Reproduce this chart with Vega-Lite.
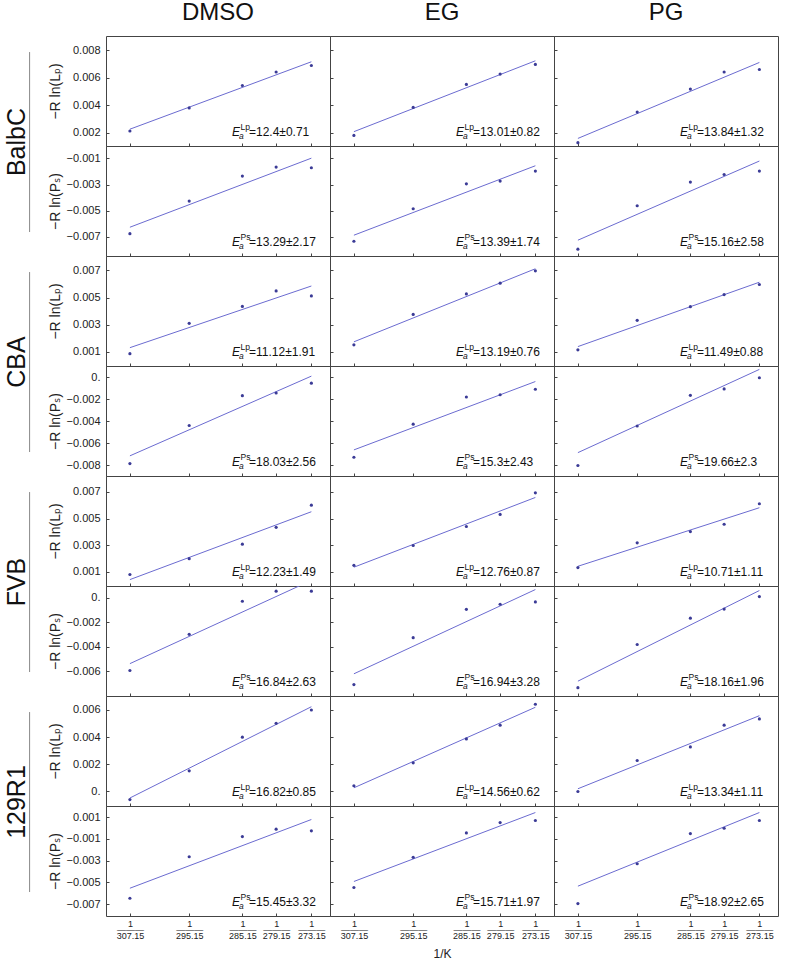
{
"$schema": "https://vega.github.io/schema/vega-lite/v6.json",
"padding": {"left": 5, "top": 0, "right": 5, "bottom": 5},
"background": "white",
"config": {
 "font": "Liberation Sans",
 "view": {"stroke": "#444", "strokeWidth": 1},
 "axis": {"grid": false, "domain": false, "tickColor": "#444", "labelColor": "#222", "titleColor": "#222", "labelFont": "Liberation Sans", "titleFont": "Liberation Sans, DejaVu Sans", "titleFontWeight": "normal"},
 "point": {"filled": true, "size": 10, "color": "#3b3b96", "opacity": 1},
 "line": {"color": "#6b6bd0", "strokeWidth": 1},
 "title": {"font": "Liberation Sans", "fontWeight": "normal", "color": "#111", "fontSize": 24, "frame": "group", "anchor": "middle", "baseline": "alphabetic", "offset": 11}
},
"datasets": {"d": [
{"s":"BalbC","p":"Lp","c":"DMSO","k":"o","x":0.0032557,"y":0.00213},{"s":"BalbC","p":"Lp","c":"DMSO","k":"o","x":0.0033881,"y":0.0038},{"s":"BalbC","p":"Lp","c":"DMSO","k":"o","x":0.0035069,"y":0.00543},{"s":"BalbC","p":"Lp","c":"DMSO","k":"o","x":0.0035823,"y":0.00641},{"s":"BalbC","p":"Lp","c":"DMSO","k":"o","x":0.003661,"y":0.00688},
{"s":"BalbC","p":"Lp","c":"DMSO","k":"f","x":0.0032557,"y":0.00226},{"s":"BalbC","p":"Lp","c":"DMSO","k":"f","x":0.003661,"y":0.00715},{"s":"BalbC","p":"Lp","c":"DMSO","k":"a","t":"=12.4±0.71"},
{"s":"BalbC","p":"Lp","c":"EG","k":"o","x":0.0032557,"y":0.00181},{"s":"BalbC","p":"Lp","c":"EG","k":"o","x":0.0033881,"y":0.00384},{"s":"BalbC","p":"Lp","c":"EG","k":"o","x":0.0035069,"y":0.00551},{"s":"BalbC","p":"Lp","c":"EG","k":"o","x":0.0035823,"y":0.00626},{"s":"BalbC","p":"Lp","c":"EG","k":"o","x":0.003661,"y":0.00696},
{"s":"BalbC","p":"Lp","c":"EG","k":"f","x":0.0032557,"y":0.00208},{"s":"BalbC","p":"Lp","c":"EG","k":"f","x":0.003661,"y":0.00722},{"s":"BalbC","p":"Lp","c":"EG","k":"a","t":"=13.01±0.82"},
{"s":"BalbC","p":"Lp","c":"PG","k":"o","x":0.0032557,"y":0.00128},{"s":"BalbC","p":"Lp","c":"PG","k":"o","x":0.0033881,"y":0.0035},{"s":"BalbC","p":"Lp","c":"PG","k":"o","x":0.0035069,"y":0.00517},{"s":"BalbC","p":"Lp","c":"PG","k":"o","x":0.0035823,"y":0.00641},{"s":"BalbC","p":"Lp","c":"PG","k":"o","x":0.003661,"y":0.00659},
{"s":"BalbC","p":"Lp","c":"PG","k":"f","x":0.0032557,"y":0.00159},{"s":"BalbC","p":"Lp","c":"PG","k":"f","x":0.003661,"y":0.0071},{"s":"BalbC","p":"Lp","c":"PG","k":"a","t":"=13.84±1.32"},
{"s":"BalbC","p":"Ps","c":"DMSO","k":"o","x":0.0032557,"y":-0.00675},{"s":"BalbC","p":"Ps","c":"DMSO","k":"o","x":0.0033881,"y":-0.00426},{"s":"BalbC","p":"Ps","c":"DMSO","k":"o","x":0.0035069,"y":-0.00235},{"s":"BalbC","p":"Ps","c":"DMSO","k":"o","x":0.0035823,"y":-0.00166},{"s":"BalbC","p":"Ps","c":"DMSO","k":"o","x":0.003661,"y":-0.00171},
{"s":"BalbC","p":"Ps","c":"DMSO","k":"f","x":0.0032557,"y":-0.00626},{"s":"BalbC","p":"Ps","c":"DMSO","k":"f","x":0.003661,"y":-0.00098},{"s":"BalbC","p":"Ps","c":"DMSO","k":"a","t":"=13.29±2.17"},
{"s":"BalbC","p":"Ps","c":"EG","k":"o","x":0.0032557,"y":-0.00733},{"s":"BalbC","p":"Ps","c":"EG","k":"o","x":0.0033881,"y":-0.00485},{"s":"BalbC","p":"Ps","c":"EG","k":"o","x":0.0035069,"y":-0.00294},{"s":"BalbC","p":"Ps","c":"EG","k":"o","x":0.0035823,"y":-0.00273},{"s":"BalbC","p":"Ps","c":"EG","k":"o","x":0.003661,"y":-0.00197},
{"s":"BalbC","p":"Ps","c":"EG","k":"f","x":0.0032557,"y":-0.00687},{"s":"BalbC","p":"Ps","c":"EG","k":"f","x":0.003661,"y":-0.00156},{"s":"BalbC","p":"Ps","c":"EG","k":"a","t":"=13.39±1.74"},
{"s":"BalbC","p":"Ps","c":"PG","k":"o","x":0.0032557,"y":-0.00794},{"s":"BalbC","p":"Ps","c":"PG","k":"o","x":0.0033881,"y":-0.00462},{"s":"BalbC","p":"Ps","c":"PG","k":"o","x":0.0035069,"y":-0.00281},{"s":"BalbC","p":"Ps","c":"PG","k":"o","x":0.0035823,"y":-0.00223},{"s":"BalbC","p":"Ps","c":"PG","k":"o","x":0.003661,"y":-0.00197},
{"s":"BalbC","p":"Ps","c":"PG","k":"f","x":0.0032557,"y":-0.00725},{"s":"BalbC","p":"Ps","c":"PG","k":"f","x":0.003661,"y":-0.0012},{"s":"BalbC","p":"Ps","c":"PG","k":"a","t":"=15.16±2.58"},
{"s":"CBA","p":"Lp","c":"DMSO","k":"o","x":0.0032557,"y":0.00087},{"s":"CBA","p":"Lp","c":"DMSO","k":"o","x":0.0033881,"y":0.0031},{"s":"CBA","p":"Lp","c":"DMSO","k":"o","x":0.0035069,"y":0.00435},{"s":"CBA","p":"Lp","c":"DMSO","k":"o","x":0.0035823,"y":0.00549},{"s":"CBA","p":"Lp","c":"DMSO","k":"o","x":0.003661,"y":0.00512},
{"s":"CBA","p":"Lp","c":"DMSO","k":"f","x":0.0032557,"y":0.00131},{"s":"CBA","p":"Lp","c":"DMSO","k":"f","x":0.003661,"y":0.00585},{"s":"CBA","p":"Lp","c":"DMSO","k":"a","t":"=11.12±1.91"},
{"s":"CBA","p":"Lp","c":"EG","k":"o","x":0.0032557,"y":0.00152},{"s":"CBA","p":"Lp","c":"EG","k":"o","x":0.0033881,"y":0.00376},{"s":"CBA","p":"Lp","c":"EG","k":"o","x":0.0035069,"y":0.00527},{"s":"CBA","p":"Lp","c":"EG","k":"o","x":0.0035823,"y":0.00606},{"s":"CBA","p":"Lp","c":"EG","k":"o","x":0.003661,"y":0.00697},
{"s":"CBA","p":"Lp","c":"EG","k":"f","x":0.0032557,"y":0.00174},{"s":"CBA","p":"Lp","c":"EG","k":"f","x":0.003661,"y":0.00712},{"s":"CBA","p":"Lp","c":"EG","k":"a","t":"=13.19±0.76"},
{"s":"CBA","p":"Lp","c":"PG","k":"o","x":0.0032557,"y":0.00115},{"s":"CBA","p":"Lp","c":"PG","k":"o","x":0.0033881,"y":0.00332},{"s":"CBA","p":"Lp","c":"PG","k":"o","x":0.0035069,"y":0.00433},{"s":"CBA","p":"Lp","c":"PG","k":"o","x":0.0035823,"y":0.00522},{"s":"CBA","p":"Lp","c":"PG","k":"o","x":0.003661,"y":0.00596},
{"s":"CBA","p":"Lp","c":"PG","k":"f","x":0.0032557,"y":0.00139},{"s":"CBA","p":"Lp","c":"PG","k":"f","x":0.003661,"y":0.00613},{"s":"CBA","p":"Lp","c":"PG","k":"a","t":"=11.49±0.88"},
{"s":"CBA","p":"Ps","c":"DMSO","k":"o","x":0.0032557,"y":-0.00784},{"s":"CBA","p":"Ps","c":"DMSO","k":"o","x":0.0033881,"y":-0.00439},{"s":"CBA","p":"Ps","c":"DMSO","k":"o","x":0.0035069,"y":-0.00168},{"s":"CBA","p":"Ps","c":"DMSO","k":"o","x":0.0035823,"y":-0.00144},{"s":"CBA","p":"Ps","c":"DMSO","k":"o","x":0.003661,"y":-0.00055},
{"s":"CBA","p":"Ps","c":"DMSO","k":"f","x":0.0032557,"y":-0.00714},{"s":"CBA","p":"Ps","c":"DMSO","k":"f","x":0.003661,"y":0.00009},{"s":"CBA","p":"Ps","c":"DMSO","k":"a","t":"=18.03±2.56"},
{"s":"CBA","p":"Ps","c":"EG","k":"o","x":0.0032557,"y":-0.00727},{"s":"CBA","p":"Ps","c":"EG","k":"o","x":0.0033881,"y":-0.00427},{"s":"CBA","p":"Ps","c":"EG","k":"o","x":0.0035069,"y":-0.0018},{"s":"CBA","p":"Ps","c":"EG","k":"o","x":0.0035823,"y":-0.0016},{"s":"CBA","p":"Ps","c":"EG","k":"o","x":0.003661,"y":-0.0011},
{"s":"CBA","p":"Ps","c":"EG","k":"f","x":0.0032557,"y":-0.0066},{"s":"CBA","p":"Ps","c":"EG","k":"f","x":0.003661,"y":-0.0004},{"s":"CBA","p":"Ps","c":"EG","k":"a","t":"=15.3±2.43"},
{"s":"CBA","p":"Ps","c":"PG","k":"o","x":0.0032557,"y":-0.00802},{"s":"CBA","p":"Ps","c":"PG","k":"o","x":0.0033881,"y":-0.00443},{"s":"CBA","p":"Ps","c":"PG","k":"o","x":0.0035069,"y":-0.00165},{"s":"CBA","p":"Ps","c":"PG","k":"o","x":0.0035823,"y":-0.00107},{"s":"CBA","p":"Ps","c":"PG","k":"o","x":0.003661,"y":-0.00006},
{"s":"CBA","p":"Ps","c":"PG","k":"f","x":0.0032557,"y":-0.00685},{"s":"CBA","p":"Ps","c":"PG","k":"f","x":0.003661,"y":0.0007},{"s":"CBA","p":"Ps","c":"PG","k":"a","t":"=19.66±2.3"},
{"s":"FVB","p":"Lp","c":"DMSO","k":"o","x":0.0032557,"y":0.0008},{"s":"FVB","p":"Lp","c":"DMSO","k":"o","x":0.0033881,"y":0.00199},{"s":"FVB","p":"Lp","c":"DMSO","k":"o","x":0.0035069,"y":0.00308},{"s":"FVB","p":"Lp","c":"DMSO","k":"o","x":0.0035823,"y":0.00434},{"s":"FVB","p":"Lp","c":"DMSO","k":"o","x":0.003661,"y":0.006},
{"s":"FVB","p":"Lp","c":"DMSO","k":"f","x":0.0032557,"y":0.00042},{"s":"FVB","p":"Lp","c":"DMSO","k":"f","x":0.003661,"y":0.00551},{"s":"FVB","p":"Lp","c":"DMSO","k":"a","t":"=12.23±1.49"},
{"s":"FVB","p":"Lp","c":"EG","k":"o","x":0.0032557,"y":0.00149},{"s":"FVB","p":"Lp","c":"EG","k":"o","x":0.0033881,"y":0.00298},{"s":"FVB","p":"Lp","c":"EG","k":"o","x":0.0035069,"y":0.0044},{"s":"FVB","p":"Lp","c":"EG","k":"o","x":0.0035823,"y":0.00531},{"s":"FVB","p":"Lp","c":"EG","k":"o","x":0.003661,"y":0.00693},
{"s":"FVB","p":"Lp","c":"EG","k":"f","x":0.0032557,"y":0.00135},{"s":"FVB","p":"Lp","c":"EG","k":"f","x":0.003661,"y":0.00658},{"s":"FVB","p":"Lp","c":"EG","k":"a","t":"=12.76±0.87"},
{"s":"FVB","p":"Lp","c":"PG","k":"o","x":0.0032557,"y":0.00132},{"s":"FVB","p":"Lp","c":"PG","k":"o","x":0.0033881,"y":0.00318},{"s":"FVB","p":"Lp","c":"PG","k":"o","x":0.0035069,"y":0.00402},{"s":"FVB","p":"Lp","c":"PG","k":"o","x":0.0035823,"y":0.00457},{"s":"FVB","p":"Lp","c":"PG","k":"o","x":0.003661,"y":0.00611},
{"s":"FVB","p":"Lp","c":"PG","k":"f","x":0.0032557,"y":0.00142},{"s":"FVB","p":"Lp","c":"PG","k":"f","x":0.003661,"y":0.00581},{"s":"FVB","p":"Lp","c":"PG","k":"a","t":"=10.71±1.11"},
{"s":"FVB","p":"Ps","c":"DMSO","k":"o","x":0.0032557,"y":-0.00592},{"s":"FVB","p":"Ps","c":"DMSO","k":"o","x":0.0033881,"y":-0.00297},{"s":"FVB","p":"Ps","c":"DMSO","k":"o","x":0.0035069,"y":-0.00027},{"s":"FVB","p":"Ps","c":"DMSO","k":"o","x":0.0035823,"y":0.00055},{"s":"FVB","p":"Ps","c":"DMSO","k":"o","x":0.003661,"y":0.00055},
{"s":"FVB","p":"Ps","c":"DMSO","k":"f","x":0.0032557,"y":-0.00536},{"s":"FVB","p":"Ps","c":"DMSO","k":"f","x":0.003661,"y":0.00143},{"s":"FVB","p":"Ps","c":"DMSO","k":"a","t":"=16.84±2.63"},
{"s":"FVB","p":"Ps","c":"EG","k":"o","x":0.0032557,"y":-0.00707},{"s":"FVB","p":"Ps","c":"EG","k":"o","x":0.0033881,"y":-0.00324},{"s":"FVB","p":"Ps","c":"EG","k":"o","x":0.0035069,"y":-0.00093},{"s":"FVB","p":"Ps","c":"EG","k":"o","x":0.0035823,"y":-0.00052},{"s":"FVB","p":"Ps","c":"EG","k":"o","x":0.003661,"y":-0.00033},
{"s":"FVB","p":"Ps","c":"EG","k":"f","x":0.0032557,"y":-0.00619},{"s":"FVB","p":"Ps","c":"EG","k":"f","x":0.003661,"y":0.00068},{"s":"FVB","p":"Ps","c":"EG","k":"a","t":"=16.94±3.28"},
{"s":"FVB","p":"Ps","c":"PG","k":"o","x":0.0032557,"y":-0.00732},{"s":"FVB","p":"Ps","c":"PG","k":"o","x":0.0033881,"y":-0.0038},{"s":"FVB","p":"Ps","c":"PG","k":"o","x":0.0035069,"y":-0.00165},{"s":"FVB","p":"Ps","c":"PG","k":"o","x":0.0035823,"y":-0.00091},{"s":"FVB","p":"Ps","c":"PG","k":"o","x":0.003661,"y":0.00011},
{"s":"FVB","p":"Ps","c":"PG","k":"f","x":0.0032557,"y":-0.00679},{"s":"FVB","p":"Ps","c":"PG","k":"f","x":0.003661,"y":0.0006},{"s":"FVB","p":"Ps","c":"PG","k":"a","t":"=18.16±1.96"},
{"s":"129R1","p":"Lp","c":"DMSO","k":"o","x":0.0032557,"y":-0.0006},{"s":"129R1","p":"Lp","c":"DMSO","k":"o","x":0.0033881,"y":0.00152},{"s":"129R1","p":"Lp","c":"DMSO","k":"o","x":0.0035069,"y":0.004},{"s":"129R1","p":"Lp","c":"DMSO","k":"o","x":0.0035823,"y":0.00502},{"s":"129R1","p":"Lp","c":"DMSO","k":"o","x":0.003661,"y":0.006},
{"s":"129R1","p":"Lp","c":"DMSO","k":"f","x":0.0032557,"y":-0.00048},{"s":"129R1","p":"Lp","c":"DMSO","k":"f","x":0.003661,"y":0.00624},{"s":"129R1","p":"Lp","c":"DMSO","k":"a","t":"=16.82±0.85"},
{"s":"129R1","p":"Lp","c":"EG","k":"o","x":0.0032557,"y":0.00042},{"s":"129R1","p":"Lp","c":"EG","k":"o","x":0.0033881,"y":0.00211},{"s":"129R1","p":"Lp","c":"EG","k":"o","x":0.0035069,"y":0.00387},{"s":"129R1","p":"Lp","c":"EG","k":"o","x":0.0035823,"y":0.00488},{"s":"129R1","p":"Lp","c":"EG","k":"o","x":0.003661,"y":0.00642},
{"s":"129R1","p":"Lp","c":"EG","k":"f","x":0.0032557,"y":0.00027},{"s":"129R1","p":"Lp","c":"EG","k":"f","x":0.003661,"y":0.0062},{"s":"129R1","p":"Lp","c":"EG","k":"a","t":"=14.56±0.62"},
{"s":"129R1","p":"Lp","c":"PG","k":"o","x":0.0032557,"y":0.0},{"s":"129R1","p":"Lp","c":"PG","k":"o","x":0.0033881,"y":0.00228},{"s":"129R1","p":"Lp","c":"PG","k":"o","x":0.0035069,"y":0.00328},{"s":"129R1","p":"Lp","c":"PG","k":"o","x":0.0035823,"y":0.00488},{"s":"129R1","p":"Lp","c":"PG","k":"o","x":0.003661,"y":0.00534},
{"s":"129R1","p":"Lp","c":"PG","k":"f","x":0.0032557,"y":0.0002},{"s":"129R1","p":"Lp","c":"PG","k":"f","x":0.003661,"y":0.00558},{"s":"129R1","p":"Lp","c":"PG","k":"a","t":"=13.34±1.11"},
{"s":"129R1","p":"Ps","c":"DMSO","k":"o","x":0.0032557,"y":-0.00645},{"s":"129R1","p":"Ps","c":"DMSO","k":"o","x":0.0033881,"y":-0.00264},{"s":"129R1","p":"Ps","c":"DMSO","k":"o","x":0.0035069,"y":-0.00079},{"s":"129R1","p":"Ps","c":"DMSO","k":"o","x":0.0035823,"y":-0.00011},{"s":"129R1","p":"Ps","c":"DMSO","k":"o","x":0.003661,"y":-0.00026},
{"s":"129R1","p":"Ps","c":"DMSO","k":"f","x":0.0032557,"y":-0.00553},{"s":"129R1","p":"Ps","c":"DMSO","k":"f","x":0.003661,"y":0.00078},{"s":"129R1","p":"Ps","c":"DMSO","k":"a","t":"=15.45±3.32"},
{"s":"129R1","p":"Ps","c":"EG","k":"o","x":0.0032557,"y":-0.00546},{"s":"129R1","p":"Ps","c":"EG","k":"o","x":0.0033881,"y":-0.00269},{"s":"129R1","p":"Ps","c":"EG","k":"o","x":0.0035069,"y":-0.00045},{"s":"129R1","p":"Ps","c":"EG","k":"o","x":0.0035823,"y":0.0005},{"s":"129R1","p":"Ps","c":"EG","k":"o","x":0.003661,"y":0.00069},
{"s":"129R1","p":"Ps","c":"EG","k":"f","x":0.0032557,"y":-0.00491},{"s":"129R1","p":"Ps","c":"EG","k":"f","x":0.003661,"y":0.00142},{"s":"129R1","p":"Ps","c":"EG","k":"a","t":"=15.71±1.97"},
{"s":"129R1","p":"Ps","c":"PG","k":"o","x":0.0032557,"y":-0.00694},{"s":"129R1","p":"Ps","c":"PG","k":"o","x":0.0033881,"y":-0.00328},{"s":"129R1","p":"Ps","c":"PG","k":"o","x":0.0035069,"y":-0.00051},{"s":"129R1","p":"Ps","c":"PG","k":"o","x":0.0035823,"y":-0.00002},{"s":"129R1","p":"Ps","c":"PG","k":"o","x":0.003661,"y":0.00069},
{"s":"129R1","p":"Ps","c":"PG","k":"f","x":0.0032557,"y":-0.00534},{"s":"129R1","p":"Ps","c":"PG","k":"f","x":0.003661,"y":0.00142},{"s":"129R1","p":"Ps","c":"PG","k":"a","t":"=18.92±2.65"}
]},
"spacing": 0,
"hconcat": [
{"spacing": 0, "vconcat": [
 {"width": 31, "height": 220, "data": {"values": [{"strain": "BalbC"}]}, "view": {"stroke": null}, "layer": [
  {"mark": {"type": "text", "angle": 270, "fontSize": 25, "align": "center", "baseline": "alphabetic", "color": "#111"}, "encoding": {"text": {"field": "strain", "type": "nominal"}, "x": {"datum": 0.306, "type": "quantitative", "scale": {"domain": [0, 1], "nice": false}, "axis": null}, "y": {"datum": 0.518, "type": "quantitative", "scale": {"domain": [0, 1], "nice": false}, "axis": null}}},
  {"mark": {"type": "rule", "color": "#888"}, "encoding": {"x": {"datum": 0.439, "type": "quantitative"}, "y": {"datum": 0.109, "type": "quantitative"}, "y2": {"datum": 0.927}}}]},
 {"width": 31, "height": 220, "data": {"values": [{"strain": "CBA"}]}, "view": {"stroke": null}, "layer": [
  {"mark": {"type": "text", "angle": 270, "fontSize": 25, "align": "center", "baseline": "alphabetic", "color": "#111"}, "encoding": {"text": {"field": "strain", "type": "nominal"}, "x": {"datum": 0.306, "type": "quantitative", "scale": {"domain": [0, 1], "nice": false}, "axis": null}, "y": {"datum": 0.518, "type": "quantitative", "scale": {"domain": [0, 1], "nice": false}, "axis": null}}},
  {"mark": {"type": "rule", "color": "#888"}, "encoding": {"x": {"datum": 0.439, "type": "quantitative"}, "y": {"datum": 0.109, "type": "quantitative"}, "y2": {"datum": 0.927}}}]},
 {"width": 31, "height": 220, "data": {"values": [{"strain": "FVB"}]}, "view": {"stroke": null}, "layer": [
  {"mark": {"type": "text", "angle": 270, "fontSize": 25, "align": "center", "baseline": "alphabetic", "color": "#111"}, "encoding": {"text": {"field": "strain", "type": "nominal"}, "x": {"datum": 0.306, "type": "quantitative", "scale": {"domain": [0, 1], "nice": false}, "axis": null}, "y": {"datum": 0.518, "type": "quantitative", "scale": {"domain": [0, 1], "nice": false}, "axis": null}}},
  {"mark": {"type": "rule", "color": "#888"}, "encoding": {"x": {"datum": 0.439, "type": "quantitative"}, "y": {"datum": 0.109, "type": "quantitative"}, "y2": {"datum": 0.927}}}]},
 {"width": 31, "height": 220, "data": {"values": [{"strain": "129R1"}]}, "view": {"stroke": null}, "layer": [
  {"mark": {"type": "text", "angle": 270, "fontSize": 25, "align": "center", "baseline": "alphabetic", "color": "#111"}, "encoding": {"text": {"field": "strain", "type": "nominal"}, "x": {"datum": 0.306, "type": "quantitative", "scale": {"domain": [0, 1], "nice": false}, "axis": null}, "y": {"datum": 0.518, "type": "quantitative", "scale": {"domain": [0, 1], "nice": false}, "axis": null}}},
  {"mark": {"type": "rule", "color": "#888"}, "encoding": {"x": {"datum": 0.439, "type": "quantitative"}, "y": {"datum": 0.109, "type": "quantitative"}, "y2": {"datum": 0.927}}}]}
]},
{"spacing": 0, "columns": 3, "bounds": "flush", "concat": [
 {"width": 224, "height": 110, "title": "DMSO", "data": {"name": "d"}, "transform": [{"filter": "datum.s == 'BalbC' && datum.p == 'Lp' && datum.c == 'DMSO'"}], "layer": [
  {"transform": [{"filter": "datum.k == 'f'"}], "mark": {"type": "line", "clip": true}, "encoding": {"x": {"field": "x", "type": "quantitative", "scale": {"domain": [0.0032023, 0.0037026], "nice": false, "zero": false}, "axis": {"values": [0.0032557, 0.0033881, 0.0035069, 0.0035823, 0.003661], "tickCount": 10, "labels": false, "tickSize": -3, "title": null}}, "y": {"field": "y", "type": "quantitative", "scale": {"domain": [0.00104, 0.00902], "nice": false, "zero": false}, "axis": {"values": [0.002, 0.004, 0.006, 0.008], "tickCount": 10, "labelExpr": "datum.value == 0 ? '0.' : format(datum.value, '.3f')", "labelOverlap": false, "labelFontSize": 11, "tickSize": -3, "labelPadding": 9, "title": "−R ln(Lₚ)", "titleFontSize": 14, "titleX": -47, "titleAngle": 270, "titleBaseline": "alphabetic", "titleAlign": "center"}}}},
  {"transform": [{"filter": "datum.k == 'o'"}], "mark": "point", "encoding": {"x": {"field": "x", "type": "quantitative"}, "y": {"field": "y", "type": "quantitative"}}},
  {"transform": [{"filter": "datum.k == 'a'"}], "encoding": {"x": {"datum": 0.0034837, "type": "quantitative"}, "y": {"datum": 0.00104, "type": "quantitative"}}, "layer": [
   {"mark": {"type": "text", "text": "E", "fontStyle": "italic", "fontSize": 12, "align": "left", "baseline": "alphabetic", "dy": -10, "color": "#111"}},
   {"mark": {"type": "text", "text": "a", "fontStyle": "italic", "fontSize": 8.5, "align": "left", "baseline": "alphabetic", "dx": 7, "dy": -7, "color": "#111"}},
   {"mark": {"type": "text", "fontSize": 8.5, "align": "left", "baseline": "alphabetic", "dx": 8.5, "dy": -16, "color": "#111"}, "encoding": {"text": {"field": "p", "type": "nominal"}}},
   {"mark": {"type": "text", "fontSize": 12, "align": "left", "baseline": "alphabetic", "dx": 17, "dy": -10, "color": "#111"}, "encoding": {"text": {"field": "t", "type": "nominal"}}}]}]},
 {"width": 224, "height": 110, "title": "EG", "data": {"name": "d"}, "transform": [{"filter": "datum.s == 'BalbC' && datum.p == 'Lp' && datum.c == 'EG'"}], "layer": [
  {"transform": [{"filter": "datum.k == 'f'"}], "mark": {"type": "line", "clip": true}, "encoding": {"x": {"field": "x", "type": "quantitative", "scale": {"domain": [0.0032023, 0.0037026], "nice": false, "zero": false}, "axis": {"values": [0.0032557, 0.0033881, 0.0035069, 0.0035823, 0.003661], "tickCount": 10, "labels": false, "tickSize": -3, "title": null}}, "y": {"field": "y", "type": "quantitative", "scale": {"domain": [0.00104, 0.00902], "nice": false, "zero": false}, "axis": {"values": [0.002, 0.004, 0.006, 0.008], "tickCount": 10, "labels": false, "tickSize": -3, "title": null}}}},
  {"transform": [{"filter": "datum.k == 'o'"}], "mark": "point", "encoding": {"x": {"field": "x", "type": "quantitative"}, "y": {"field": "y", "type": "quantitative"}}},
  {"transform": [{"filter": "datum.k == 'a'"}], "encoding": {"x": {"datum": 0.0034837, "type": "quantitative"}, "y": {"datum": 0.00104, "type": "quantitative"}}, "layer": [
   {"mark": {"type": "text", "text": "E", "fontStyle": "italic", "fontSize": 12, "align": "left", "baseline": "alphabetic", "dy": -10, "color": "#111"}},
   {"mark": {"type": "text", "text": "a", "fontStyle": "italic", "fontSize": 8.5, "align": "left", "baseline": "alphabetic", "dx": 7, "dy": -7, "color": "#111"}},
   {"mark": {"type": "text", "fontSize": 8.5, "align": "left", "baseline": "alphabetic", "dx": 8.5, "dy": -16, "color": "#111"}, "encoding": {"text": {"field": "p", "type": "nominal"}}},
   {"mark": {"type": "text", "fontSize": 12, "align": "left", "baseline": "alphabetic", "dx": 17, "dy": -10, "color": "#111"}, "encoding": {"text": {"field": "t", "type": "nominal"}}}]}]},
 {"width": 224, "height": 110, "title": "PG", "data": {"name": "d"}, "transform": [{"filter": "datum.s == 'BalbC' && datum.p == 'Lp' && datum.c == 'PG'"}], "layer": [
  {"transform": [{"filter": "datum.k == 'f'"}], "mark": {"type": "line", "clip": true}, "encoding": {"x": {"field": "x", "type": "quantitative", "scale": {"domain": [0.0032023, 0.0037026], "nice": false, "zero": false}, "axis": {"values": [0.0032557, 0.0033881, 0.0035069, 0.0035823, 0.003661], "tickCount": 10, "labels": false, "tickSize": -3, "title": null}}, "y": {"field": "y", "type": "quantitative", "scale": {"domain": [0.00104, 0.00902], "nice": false, "zero": false}, "axis": {"values": [0.002, 0.004, 0.006, 0.008], "tickCount": 10, "labels": false, "tickSize": -3, "title": null}}}},
  {"transform": [{"filter": "datum.k == 'o'"}], "mark": "point", "encoding": {"x": {"field": "x", "type": "quantitative"}, "y": {"field": "y", "type": "quantitative"}}},
  {"transform": [{"filter": "datum.k == 'a'"}], "encoding": {"x": {"datum": 0.0034837, "type": "quantitative"}, "y": {"datum": 0.00104, "type": "quantitative"}}, "layer": [
   {"mark": {"type": "text", "text": "E", "fontStyle": "italic", "fontSize": 12, "align": "left", "baseline": "alphabetic", "dy": -10, "color": "#111"}},
   {"mark": {"type": "text", "text": "a", "fontStyle": "italic", "fontSize": 8.5, "align": "left", "baseline": "alphabetic", "dx": 7, "dy": -7, "color": "#111"}},
   {"mark": {"type": "text", "fontSize": 8.5, "align": "left", "baseline": "alphabetic", "dx": 8.5, "dy": -16, "color": "#111"}, "encoding": {"text": {"field": "p", "type": "nominal"}}},
   {"mark": {"type": "text", "fontSize": 12, "align": "left", "baseline": "alphabetic", "dx": 17, "dy": -10, "color": "#111"}, "encoding": {"text": {"field": "t", "type": "nominal"}}}]}]},
 {"width": 224, "height": 110, "data": {"name": "d"}, "transform": [{"filter": "datum.s == 'BalbC' && datum.p == 'Ps' && datum.c == 'DMSO'"}], "layer": [
  {"transform": [{"filter": "datum.k == 'f'"}], "mark": {"type": "line", "clip": true}, "encoding": {"x": {"field": "x", "type": "quantitative", "scale": {"domain": [0.0032023, 0.0037026], "nice": false, "zero": false}, "axis": {"values": [0.0032557, 0.0033881, 0.0035069, 0.0035823, 0.003661], "tickCount": 10, "labels": false, "tickSize": -3, "title": null}}, "y": {"field": "y", "type": "quantitative", "scale": {"domain": [-0.00846, -0.00005], "nice": false, "zero": false}, "axis": {"values": [-0.007, -0.005, -0.003, -0.001], "tickCount": 10, "labelExpr": "datum.value == 0 ? '0.' : format(datum.value, '.3f')", "labelOverlap": false, "labelFontSize": 11, "tickSize": -3, "labelPadding": 9, "title": "−R ln(Pₛ)", "titleFontSize": 14, "titleX": -47, "titleAngle": 270, "titleBaseline": "alphabetic", "titleAlign": "center"}}}},
  {"transform": [{"filter": "datum.k == 'o'"}], "mark": "point", "encoding": {"x": {"field": "x", "type": "quantitative"}, "y": {"field": "y", "type": "quantitative"}}},
  {"transform": [{"filter": "datum.k == 'a'"}], "encoding": {"x": {"datum": 0.0034837, "type": "quantitative"}, "y": {"datum": -0.00846, "type": "quantitative"}}, "layer": [
   {"mark": {"type": "text", "text": "E", "fontStyle": "italic", "fontSize": 12, "align": "left", "baseline": "alphabetic", "dy": -10, "color": "#111"}},
   {"mark": {"type": "text", "text": "a", "fontStyle": "italic", "fontSize": 8.5, "align": "left", "baseline": "alphabetic", "dx": 7, "dy": -7, "color": "#111"}},
   {"mark": {"type": "text", "fontSize": 8.5, "align": "left", "baseline": "alphabetic", "dx": 8.5, "dy": -16, "color": "#111"}, "encoding": {"text": {"field": "p", "type": "nominal"}}},
   {"mark": {"type": "text", "fontSize": 12, "align": "left", "baseline": "alphabetic", "dx": 17, "dy": -10, "color": "#111"}, "encoding": {"text": {"field": "t", "type": "nominal"}}}]}]},
 {"width": 224, "height": 110, "data": {"name": "d"}, "transform": [{"filter": "datum.s == 'BalbC' && datum.p == 'Ps' && datum.c == 'EG'"}], "layer": [
  {"transform": [{"filter": "datum.k == 'f'"}], "mark": {"type": "line", "clip": true}, "encoding": {"x": {"field": "x", "type": "quantitative", "scale": {"domain": [0.0032023, 0.0037026], "nice": false, "zero": false}, "axis": {"values": [0.0032557, 0.0033881, 0.0035069, 0.0035823, 0.003661], "tickCount": 10, "labels": false, "tickSize": -3, "title": null}}, "y": {"field": "y", "type": "quantitative", "scale": {"domain": [-0.00846, -0.00005], "nice": false, "zero": false}, "axis": {"values": [-0.007, -0.005, -0.003, -0.001], "tickCount": 10, "labels": false, "tickSize": -3, "title": null}}}},
  {"transform": [{"filter": "datum.k == 'o'"}], "mark": "point", "encoding": {"x": {"field": "x", "type": "quantitative"}, "y": {"field": "y", "type": "quantitative"}}},
  {"transform": [{"filter": "datum.k == 'a'"}], "encoding": {"x": {"datum": 0.0034837, "type": "quantitative"}, "y": {"datum": -0.00846, "type": "quantitative"}}, "layer": [
   {"mark": {"type": "text", "text": "E", "fontStyle": "italic", "fontSize": 12, "align": "left", "baseline": "alphabetic", "dy": -10, "color": "#111"}},
   {"mark": {"type": "text", "text": "a", "fontStyle": "italic", "fontSize": 8.5, "align": "left", "baseline": "alphabetic", "dx": 7, "dy": -7, "color": "#111"}},
   {"mark": {"type": "text", "fontSize": 8.5, "align": "left", "baseline": "alphabetic", "dx": 8.5, "dy": -16, "color": "#111"}, "encoding": {"text": {"field": "p", "type": "nominal"}}},
   {"mark": {"type": "text", "fontSize": 12, "align": "left", "baseline": "alphabetic", "dx": 17, "dy": -10, "color": "#111"}, "encoding": {"text": {"field": "t", "type": "nominal"}}}]}]},
 {"width": 224, "height": 110, "data": {"name": "d"}, "transform": [{"filter": "datum.s == 'BalbC' && datum.p == 'Ps' && datum.c == 'PG'"}], "layer": [
  {"transform": [{"filter": "datum.k == 'f'"}], "mark": {"type": "line", "clip": true}, "encoding": {"x": {"field": "x", "type": "quantitative", "scale": {"domain": [0.0032023, 0.0037026], "nice": false, "zero": false}, "axis": {"values": [0.0032557, 0.0033881, 0.0035069, 0.0035823, 0.003661], "tickCount": 10, "labels": false, "tickSize": -3, "title": null}}, "y": {"field": "y", "type": "quantitative", "scale": {"domain": [-0.00846, -0.00005], "nice": false, "zero": false}, "axis": {"values": [-0.007, -0.005, -0.003, -0.001], "tickCount": 10, "labels": false, "tickSize": -3, "title": null}}}},
  {"transform": [{"filter": "datum.k == 'o'"}], "mark": "point", "encoding": {"x": {"field": "x", "type": "quantitative"}, "y": {"field": "y", "type": "quantitative"}}},
  {"transform": [{"filter": "datum.k == 'a'"}], "encoding": {"x": {"datum": 0.0034837, "type": "quantitative"}, "y": {"datum": -0.00846, "type": "quantitative"}}, "layer": [
   {"mark": {"type": "text", "text": "E", "fontStyle": "italic", "fontSize": 12, "align": "left", "baseline": "alphabetic", "dy": -10, "color": "#111"}},
   {"mark": {"type": "text", "text": "a", "fontStyle": "italic", "fontSize": 8.5, "align": "left", "baseline": "alphabetic", "dx": 7, "dy": -7, "color": "#111"}},
   {"mark": {"type": "text", "fontSize": 8.5, "align": "left", "baseline": "alphabetic", "dx": 8.5, "dy": -16, "color": "#111"}, "encoding": {"text": {"field": "p", "type": "nominal"}}},
   {"mark": {"type": "text", "fontSize": 12, "align": "left", "baseline": "alphabetic", "dx": 17, "dy": -10, "color": "#111"}, "encoding": {"text": {"field": "t", "type": "nominal"}}}]}]},
 {"width": 224, "height": 110, "data": {"name": "d"}, "transform": [{"filter": "datum.s == 'CBA' && datum.p == 'Lp' && datum.c == 'DMSO'"}], "layer": [
  {"transform": [{"filter": "datum.k == 'f'"}], "mark": {"type": "line", "clip": true}, "encoding": {"x": {"field": "x", "type": "quantitative", "scale": {"domain": [0.0032023, 0.0037026], "nice": false, "zero": false}, "axis": {"values": [0.0032557, 0.0033881, 0.0035069, 0.0035823, 0.003661], "tickCount": 10, "labels": false, "tickSize": -3, "title": null}}, "y": {"field": "y", "type": "quantitative", "scale": {"domain": [-0.00004, 0.00806], "nice": false, "zero": false}, "axis": {"values": [0.001, 0.003, 0.005, 0.007], "tickCount": 10, "labelExpr": "datum.value == 0 ? '0.' : format(datum.value, '.3f')", "labelOverlap": false, "labelFontSize": 11, "tickSize": -3, "labelPadding": 9, "title": "−R ln(Lₚ)", "titleFontSize": 14, "titleX": -47, "titleAngle": 270, "titleBaseline": "alphabetic", "titleAlign": "center"}}}},
  {"transform": [{"filter": "datum.k == 'o'"}], "mark": "point", "encoding": {"x": {"field": "x", "type": "quantitative"}, "y": {"field": "y", "type": "quantitative"}}},
  {"transform": [{"filter": "datum.k == 'a'"}], "encoding": {"x": {"datum": 0.0034837, "type": "quantitative"}, "y": {"datum": -0.00004, "type": "quantitative"}}, "layer": [
   {"mark": {"type": "text", "text": "E", "fontStyle": "italic", "fontSize": 12, "align": "left", "baseline": "alphabetic", "dy": -10, "color": "#111"}},
   {"mark": {"type": "text", "text": "a", "fontStyle": "italic", "fontSize": 8.5, "align": "left", "baseline": "alphabetic", "dx": 7, "dy": -7, "color": "#111"}},
   {"mark": {"type": "text", "fontSize": 8.5, "align": "left", "baseline": "alphabetic", "dx": 8.5, "dy": -16, "color": "#111"}, "encoding": {"text": {"field": "p", "type": "nominal"}}},
   {"mark": {"type": "text", "fontSize": 12, "align": "left", "baseline": "alphabetic", "dx": 17, "dy": -10, "color": "#111"}, "encoding": {"text": {"field": "t", "type": "nominal"}}}]}]},
 {"width": 224, "height": 110, "data": {"name": "d"}, "transform": [{"filter": "datum.s == 'CBA' && datum.p == 'Lp' && datum.c == 'EG'"}], "layer": [
  {"transform": [{"filter": "datum.k == 'f'"}], "mark": {"type": "line", "clip": true}, "encoding": {"x": {"field": "x", "type": "quantitative", "scale": {"domain": [0.0032023, 0.0037026], "nice": false, "zero": false}, "axis": {"values": [0.0032557, 0.0033881, 0.0035069, 0.0035823, 0.003661], "tickCount": 10, "labels": false, "tickSize": -3, "title": null}}, "y": {"field": "y", "type": "quantitative", "scale": {"domain": [-0.00004, 0.00806], "nice": false, "zero": false}, "axis": {"values": [0.001, 0.003, 0.005, 0.007], "tickCount": 10, "labels": false, "tickSize": -3, "title": null}}}},
  {"transform": [{"filter": "datum.k == 'o'"}], "mark": "point", "encoding": {"x": {"field": "x", "type": "quantitative"}, "y": {"field": "y", "type": "quantitative"}}},
  {"transform": [{"filter": "datum.k == 'a'"}], "encoding": {"x": {"datum": 0.0034837, "type": "quantitative"}, "y": {"datum": -0.00004, "type": "quantitative"}}, "layer": [
   {"mark": {"type": "text", "text": "E", "fontStyle": "italic", "fontSize": 12, "align": "left", "baseline": "alphabetic", "dy": -10, "color": "#111"}},
   {"mark": {"type": "text", "text": "a", "fontStyle": "italic", "fontSize": 8.5, "align": "left", "baseline": "alphabetic", "dx": 7, "dy": -7, "color": "#111"}},
   {"mark": {"type": "text", "fontSize": 8.5, "align": "left", "baseline": "alphabetic", "dx": 8.5, "dy": -16, "color": "#111"}, "encoding": {"text": {"field": "p", "type": "nominal"}}},
   {"mark": {"type": "text", "fontSize": 12, "align": "left", "baseline": "alphabetic", "dx": 17, "dy": -10, "color": "#111"}, "encoding": {"text": {"field": "t", "type": "nominal"}}}]}]},
 {"width": 224, "height": 110, "data": {"name": "d"}, "transform": [{"filter": "datum.s == 'CBA' && datum.p == 'Lp' && datum.c == 'PG'"}], "layer": [
  {"transform": [{"filter": "datum.k == 'f'"}], "mark": {"type": "line", "clip": true}, "encoding": {"x": {"field": "x", "type": "quantitative", "scale": {"domain": [0.0032023, 0.0037026], "nice": false, "zero": false}, "axis": {"values": [0.0032557, 0.0033881, 0.0035069, 0.0035823, 0.003661], "tickCount": 10, "labels": false, "tickSize": -3, "title": null}}, "y": {"field": "y", "type": "quantitative", "scale": {"domain": [-0.00004, 0.00806], "nice": false, "zero": false}, "axis": {"values": [0.001, 0.003, 0.005, 0.007], "tickCount": 10, "labels": false, "tickSize": -3, "title": null}}}},
  {"transform": [{"filter": "datum.k == 'o'"}], "mark": "point", "encoding": {"x": {"field": "x", "type": "quantitative"}, "y": {"field": "y", "type": "quantitative"}}},
  {"transform": [{"filter": "datum.k == 'a'"}], "encoding": {"x": {"datum": 0.0034837, "type": "quantitative"}, "y": {"datum": -0.00004, "type": "quantitative"}}, "layer": [
   {"mark": {"type": "text", "text": "E", "fontStyle": "italic", "fontSize": 12, "align": "left", "baseline": "alphabetic", "dy": -10, "color": "#111"}},
   {"mark": {"type": "text", "text": "a", "fontStyle": "italic", "fontSize": 8.5, "align": "left", "baseline": "alphabetic", "dx": 7, "dy": -7, "color": "#111"}},
   {"mark": {"type": "text", "fontSize": 8.5, "align": "left", "baseline": "alphabetic", "dx": 8.5, "dy": -16, "color": "#111"}, "encoding": {"text": {"field": "p", "type": "nominal"}}},
   {"mark": {"type": "text", "fontSize": 12, "align": "left", "baseline": "alphabetic", "dx": 17, "dy": -10, "color": "#111"}, "encoding": {"text": {"field": "t", "type": "nominal"}}}]}]},
 {"width": 224, "height": 110, "data": {"name": "d"}, "transform": [{"filter": "datum.s == 'CBA' && datum.p == 'Ps' && datum.c == 'DMSO'"}], "layer": [
  {"transform": [{"filter": "datum.k == 'f'"}], "mark": {"type": "line", "clip": true}, "encoding": {"x": {"field": "x", "type": "quantitative", "scale": {"domain": [0.0032023, 0.0037026], "nice": false, "zero": false}, "axis": {"values": [0.0032557, 0.0033881, 0.0035069, 0.0035823, 0.003661], "tickCount": 10, "labels": false, "tickSize": -3, "title": null}}, "y": {"field": "y", "type": "quantitative", "scale": {"domain": [-0.00897, 0.00101], "nice": false, "zero": false}, "axis": {"values": [-0.008, -0.006, -0.004, -0.002, 0], "tickCount": 10, "labelExpr": "datum.value == 0 ? '0.' : format(datum.value, '.3f')", "labelOverlap": false, "labelFontSize": 11, "tickSize": -3, "labelPadding": 9, "title": "−R ln(Pₛ)", "titleFontSize": 14, "titleX": -47, "titleAngle": 270, "titleBaseline": "alphabetic", "titleAlign": "center"}}}},
  {"transform": [{"filter": "datum.k == 'o'"}], "mark": "point", "encoding": {"x": {"field": "x", "type": "quantitative"}, "y": {"field": "y", "type": "quantitative"}}},
  {"transform": [{"filter": "datum.k == 'a'"}], "encoding": {"x": {"datum": 0.0034837, "type": "quantitative"}, "y": {"datum": -0.00897, "type": "quantitative"}}, "layer": [
   {"mark": {"type": "text", "text": "E", "fontStyle": "italic", "fontSize": 12, "align": "left", "baseline": "alphabetic", "dy": -10, "color": "#111"}},
   {"mark": {"type": "text", "text": "a", "fontStyle": "italic", "fontSize": 8.5, "align": "left", "baseline": "alphabetic", "dx": 7, "dy": -7, "color": "#111"}},
   {"mark": {"type": "text", "fontSize": 8.5, "align": "left", "baseline": "alphabetic", "dx": 8.5, "dy": -16, "color": "#111"}, "encoding": {"text": {"field": "p", "type": "nominal"}}},
   {"mark": {"type": "text", "fontSize": 12, "align": "left", "baseline": "alphabetic", "dx": 17, "dy": -10, "color": "#111"}, "encoding": {"text": {"field": "t", "type": "nominal"}}}]}]},
 {"width": 224, "height": 110, "data": {"name": "d"}, "transform": [{"filter": "datum.s == 'CBA' && datum.p == 'Ps' && datum.c == 'EG'"}], "layer": [
  {"transform": [{"filter": "datum.k == 'f'"}], "mark": {"type": "line", "clip": true}, "encoding": {"x": {"field": "x", "type": "quantitative", "scale": {"domain": [0.0032023, 0.0037026], "nice": false, "zero": false}, "axis": {"values": [0.0032557, 0.0033881, 0.0035069, 0.0035823, 0.003661], "tickCount": 10, "labels": false, "tickSize": -3, "title": null}}, "y": {"field": "y", "type": "quantitative", "scale": {"domain": [-0.00897, 0.00101], "nice": false, "zero": false}, "axis": {"values": [-0.008, -0.006, -0.004, -0.002, 0], "tickCount": 10, "labels": false, "tickSize": -3, "title": null}}}},
  {"transform": [{"filter": "datum.k == 'o'"}], "mark": "point", "encoding": {"x": {"field": "x", "type": "quantitative"}, "y": {"field": "y", "type": "quantitative"}}},
  {"transform": [{"filter": "datum.k == 'a'"}], "encoding": {"x": {"datum": 0.0034837, "type": "quantitative"}, "y": {"datum": -0.00897, "type": "quantitative"}}, "layer": [
   {"mark": {"type": "text", "text": "E", "fontStyle": "italic", "fontSize": 12, "align": "left", "baseline": "alphabetic", "dy": -10, "color": "#111"}},
   {"mark": {"type": "text", "text": "a", "fontStyle": "italic", "fontSize": 8.5, "align": "left", "baseline": "alphabetic", "dx": 7, "dy": -7, "color": "#111"}},
   {"mark": {"type": "text", "fontSize": 8.5, "align": "left", "baseline": "alphabetic", "dx": 8.5, "dy": -16, "color": "#111"}, "encoding": {"text": {"field": "p", "type": "nominal"}}},
   {"mark": {"type": "text", "fontSize": 12, "align": "left", "baseline": "alphabetic", "dx": 17, "dy": -10, "color": "#111"}, "encoding": {"text": {"field": "t", "type": "nominal"}}}]}]},
 {"width": 224, "height": 110, "data": {"name": "d"}, "transform": [{"filter": "datum.s == 'CBA' && datum.p == 'Ps' && datum.c == 'PG'"}], "layer": [
  {"transform": [{"filter": "datum.k == 'f'"}], "mark": {"type": "line", "clip": true}, "encoding": {"x": {"field": "x", "type": "quantitative", "scale": {"domain": [0.0032023, 0.0037026], "nice": false, "zero": false}, "axis": {"values": [0.0032557, 0.0033881, 0.0035069, 0.0035823, 0.003661], "tickCount": 10, "labels": false, "tickSize": -3, "title": null}}, "y": {"field": "y", "type": "quantitative", "scale": {"domain": [-0.00897, 0.00101], "nice": false, "zero": false}, "axis": {"values": [-0.008, -0.006, -0.004, -0.002, 0], "tickCount": 10, "labels": false, "tickSize": -3, "title": null}}}},
  {"transform": [{"filter": "datum.k == 'o'"}], "mark": "point", "encoding": {"x": {"field": "x", "type": "quantitative"}, "y": {"field": "y", "type": "quantitative"}}},
  {"transform": [{"filter": "datum.k == 'a'"}], "encoding": {"x": {"datum": 0.0034837, "type": "quantitative"}, "y": {"datum": -0.00897, "type": "quantitative"}}, "layer": [
   {"mark": {"type": "text", "text": "E", "fontStyle": "italic", "fontSize": 12, "align": "left", "baseline": "alphabetic", "dy": -10, "color": "#111"}},
   {"mark": {"type": "text", "text": "a", "fontStyle": "italic", "fontSize": 8.5, "align": "left", "baseline": "alphabetic", "dx": 7, "dy": -7, "color": "#111"}},
   {"mark": {"type": "text", "fontSize": 8.5, "align": "left", "baseline": "alphabetic", "dx": 8.5, "dy": -16, "color": "#111"}, "encoding": {"text": {"field": "p", "type": "nominal"}}},
   {"mark": {"type": "text", "fontSize": 12, "align": "left", "baseline": "alphabetic", "dx": 17, "dy": -10, "color": "#111"}, "encoding": {"text": {"field": "t", "type": "nominal"}}}]}]},
 {"width": 224, "height": 110, "data": {"name": "d"}, "transform": [{"filter": "datum.s == 'FVB' && datum.p == 'Lp' && datum.c == 'DMSO'"}], "layer": [
  {"transform": [{"filter": "datum.k == 'f'"}], "mark": {"type": "line", "clip": true}, "encoding": {"x": {"field": "x", "type": "quantitative", "scale": {"domain": [0.0032023, 0.0037026], "nice": false, "zero": false}, "axis": {"values": [0.0032557, 0.0033881, 0.0035069, 0.0035823, 0.003661], "tickCount": 10, "labels": false, "tickSize": -3, "title": null}}, "y": {"field": "y", "type": "quantitative", "scale": {"domain": [-0.00006, 0.00819], "nice": false, "zero": false}, "axis": {"values": [0.001, 0.003, 0.005, 0.007], "tickCount": 10, "labelExpr": "datum.value == 0 ? '0.' : format(datum.value, '.3f')", "labelOverlap": false, "labelFontSize": 11, "tickSize": -3, "labelPadding": 9, "title": "−R ln(Lₚ)", "titleFontSize": 14, "titleX": -47, "titleAngle": 270, "titleBaseline": "alphabetic", "titleAlign": "center"}}}},
  {"transform": [{"filter": "datum.k == 'o'"}], "mark": "point", "encoding": {"x": {"field": "x", "type": "quantitative"}, "y": {"field": "y", "type": "quantitative"}}},
  {"transform": [{"filter": "datum.k == 'a'"}], "encoding": {"x": {"datum": 0.0034837, "type": "quantitative"}, "y": {"datum": -0.00006, "type": "quantitative"}}, "layer": [
   {"mark": {"type": "text", "text": "E", "fontStyle": "italic", "fontSize": 12, "align": "left", "baseline": "alphabetic", "dy": -10, "color": "#111"}},
   {"mark": {"type": "text", "text": "a", "fontStyle": "italic", "fontSize": 8.5, "align": "left", "baseline": "alphabetic", "dx": 7, "dy": -7, "color": "#111"}},
   {"mark": {"type": "text", "fontSize": 8.5, "align": "left", "baseline": "alphabetic", "dx": 8.5, "dy": -16, "color": "#111"}, "encoding": {"text": {"field": "p", "type": "nominal"}}},
   {"mark": {"type": "text", "fontSize": 12, "align": "left", "baseline": "alphabetic", "dx": 17, "dy": -10, "color": "#111"}, "encoding": {"text": {"field": "t", "type": "nominal"}}}]}]},
 {"width": 224, "height": 110, "data": {"name": "d"}, "transform": [{"filter": "datum.s == 'FVB' && datum.p == 'Lp' && datum.c == 'EG'"}], "layer": [
  {"transform": [{"filter": "datum.k == 'f'"}], "mark": {"type": "line", "clip": true}, "encoding": {"x": {"field": "x", "type": "quantitative", "scale": {"domain": [0.0032023, 0.0037026], "nice": false, "zero": false}, "axis": {"values": [0.0032557, 0.0033881, 0.0035069, 0.0035823, 0.003661], "tickCount": 10, "labels": false, "tickSize": -3, "title": null}}, "y": {"field": "y", "type": "quantitative", "scale": {"domain": [-0.00006, 0.00819], "nice": false, "zero": false}, "axis": {"values": [0.001, 0.003, 0.005, 0.007], "tickCount": 10, "labels": false, "tickSize": -3, "title": null}}}},
  {"transform": [{"filter": "datum.k == 'o'"}], "mark": "point", "encoding": {"x": {"field": "x", "type": "quantitative"}, "y": {"field": "y", "type": "quantitative"}}},
  {"transform": [{"filter": "datum.k == 'a'"}], "encoding": {"x": {"datum": 0.0034837, "type": "quantitative"}, "y": {"datum": -0.00006, "type": "quantitative"}}, "layer": [
   {"mark": {"type": "text", "text": "E", "fontStyle": "italic", "fontSize": 12, "align": "left", "baseline": "alphabetic", "dy": -10, "color": "#111"}},
   {"mark": {"type": "text", "text": "a", "fontStyle": "italic", "fontSize": 8.5, "align": "left", "baseline": "alphabetic", "dx": 7, "dy": -7, "color": "#111"}},
   {"mark": {"type": "text", "fontSize": 8.5, "align": "left", "baseline": "alphabetic", "dx": 8.5, "dy": -16, "color": "#111"}, "encoding": {"text": {"field": "p", "type": "nominal"}}},
   {"mark": {"type": "text", "fontSize": 12, "align": "left", "baseline": "alphabetic", "dx": 17, "dy": -10, "color": "#111"}, "encoding": {"text": {"field": "t", "type": "nominal"}}}]}]},
 {"width": 224, "height": 110, "data": {"name": "d"}, "transform": [{"filter": "datum.s == 'FVB' && datum.p == 'Lp' && datum.c == 'PG'"}], "layer": [
  {"transform": [{"filter": "datum.k == 'f'"}], "mark": {"type": "line", "clip": true}, "encoding": {"x": {"field": "x", "type": "quantitative", "scale": {"domain": [0.0032023, 0.0037026], "nice": false, "zero": false}, "axis": {"values": [0.0032557, 0.0033881, 0.0035069, 0.0035823, 0.003661], "tickCount": 10, "labels": false, "tickSize": -3, "title": null}}, "y": {"field": "y", "type": "quantitative", "scale": {"domain": [-0.00006, 0.00819], "nice": false, "zero": false}, "axis": {"values": [0.001, 0.003, 0.005, 0.007], "tickCount": 10, "labels": false, "tickSize": -3, "title": null}}}},
  {"transform": [{"filter": "datum.k == 'o'"}], "mark": "point", "encoding": {"x": {"field": "x", "type": "quantitative"}, "y": {"field": "y", "type": "quantitative"}}},
  {"transform": [{"filter": "datum.k == 'a'"}], "encoding": {"x": {"datum": 0.0034837, "type": "quantitative"}, "y": {"datum": -0.00006, "type": "quantitative"}}, "layer": [
   {"mark": {"type": "text", "text": "E", "fontStyle": "italic", "fontSize": 12, "align": "left", "baseline": "alphabetic", "dy": -10, "color": "#111"}},
   {"mark": {"type": "text", "text": "a", "fontStyle": "italic", "fontSize": 8.5, "align": "left", "baseline": "alphabetic", "dx": 7, "dy": -7, "color": "#111"}},
   {"mark": {"type": "text", "fontSize": 8.5, "align": "left", "baseline": "alphabetic", "dx": 8.5, "dy": -16, "color": "#111"}, "encoding": {"text": {"field": "p", "type": "nominal"}}},
   {"mark": {"type": "text", "fontSize": 12, "align": "left", "baseline": "alphabetic", "dx": 17, "dy": -10, "color": "#111"}, "encoding": {"text": {"field": "t", "type": "nominal"}}}]}]},
 {"width": 224, "height": 110, "data": {"name": "d"}, "transform": [{"filter": "datum.s == 'FVB' && datum.p == 'Ps' && datum.c == 'DMSO'"}], "layer": [
  {"transform": [{"filter": "datum.k == 'f'"}], "mark": {"type": "line", "clip": true}, "encoding": {"x": {"field": "x", "type": "quantitative", "scale": {"domain": [0.0032023, 0.0037026], "nice": false, "zero": false}, "axis": {"values": [0.0032557, 0.0033881, 0.0035069, 0.0035823, 0.003661], "tickCount": 10, "labels": false, "tickSize": -3, "title": null}}, "y": {"field": "y", "type": "quantitative", "scale": {"domain": [-0.008, 0.00097], "nice": false, "zero": false}, "axis": {"values": [-0.006, -0.004, -0.002, 0], "tickCount": 10, "labelExpr": "datum.value == 0 ? '0.' : format(datum.value, '.3f')", "labelOverlap": false, "labelFontSize": 11, "tickSize": -3, "labelPadding": 9, "title": "−R ln(Pₛ)", "titleFontSize": 14, "titleX": -47, "titleAngle": 270, "titleBaseline": "alphabetic", "titleAlign": "center"}}}},
  {"transform": [{"filter": "datum.k == 'o'"}], "mark": "point", "encoding": {"x": {"field": "x", "type": "quantitative"}, "y": {"field": "y", "type": "quantitative"}}},
  {"transform": [{"filter": "datum.k == 'a'"}], "encoding": {"x": {"datum": 0.0034837, "type": "quantitative"}, "y": {"datum": -0.008, "type": "quantitative"}}, "layer": [
   {"mark": {"type": "text", "text": "E", "fontStyle": "italic", "fontSize": 12, "align": "left", "baseline": "alphabetic", "dy": -10, "color": "#111"}},
   {"mark": {"type": "text", "text": "a", "fontStyle": "italic", "fontSize": 8.5, "align": "left", "baseline": "alphabetic", "dx": 7, "dy": -7, "color": "#111"}},
   {"mark": {"type": "text", "fontSize": 8.5, "align": "left", "baseline": "alphabetic", "dx": 8.5, "dy": -16, "color": "#111"}, "encoding": {"text": {"field": "p", "type": "nominal"}}},
   {"mark": {"type": "text", "fontSize": 12, "align": "left", "baseline": "alphabetic", "dx": 17, "dy": -10, "color": "#111"}, "encoding": {"text": {"field": "t", "type": "nominal"}}}]}]},
 {"width": 224, "height": 110, "data": {"name": "d"}, "transform": [{"filter": "datum.s == 'FVB' && datum.p == 'Ps' && datum.c == 'EG'"}], "layer": [
  {"transform": [{"filter": "datum.k == 'f'"}], "mark": {"type": "line", "clip": true}, "encoding": {"x": {"field": "x", "type": "quantitative", "scale": {"domain": [0.0032023, 0.0037026], "nice": false, "zero": false}, "axis": {"values": [0.0032557, 0.0033881, 0.0035069, 0.0035823, 0.003661], "tickCount": 10, "labels": false, "tickSize": -3, "title": null}}, "y": {"field": "y", "type": "quantitative", "scale": {"domain": [-0.008, 0.00097], "nice": false, "zero": false}, "axis": {"values": [-0.006, -0.004, -0.002, 0], "tickCount": 10, "labels": false, "tickSize": -3, "title": null}}}},
  {"transform": [{"filter": "datum.k == 'o'"}], "mark": "point", "encoding": {"x": {"field": "x", "type": "quantitative"}, "y": {"field": "y", "type": "quantitative"}}},
  {"transform": [{"filter": "datum.k == 'a'"}], "encoding": {"x": {"datum": 0.0034837, "type": "quantitative"}, "y": {"datum": -0.008, "type": "quantitative"}}, "layer": [
   {"mark": {"type": "text", "text": "E", "fontStyle": "italic", "fontSize": 12, "align": "left", "baseline": "alphabetic", "dy": -10, "color": "#111"}},
   {"mark": {"type": "text", "text": "a", "fontStyle": "italic", "fontSize": 8.5, "align": "left", "baseline": "alphabetic", "dx": 7, "dy": -7, "color": "#111"}},
   {"mark": {"type": "text", "fontSize": 8.5, "align": "left", "baseline": "alphabetic", "dx": 8.5, "dy": -16, "color": "#111"}, "encoding": {"text": {"field": "p", "type": "nominal"}}},
   {"mark": {"type": "text", "fontSize": 12, "align": "left", "baseline": "alphabetic", "dx": 17, "dy": -10, "color": "#111"}, "encoding": {"text": {"field": "t", "type": "nominal"}}}]}]},
 {"width": 224, "height": 110, "data": {"name": "d"}, "transform": [{"filter": "datum.s == 'FVB' && datum.p == 'Ps' && datum.c == 'PG'"}], "layer": [
  {"transform": [{"filter": "datum.k == 'f'"}], "mark": {"type": "line", "clip": true}, "encoding": {"x": {"field": "x", "type": "quantitative", "scale": {"domain": [0.0032023, 0.0037026], "nice": false, "zero": false}, "axis": {"values": [0.0032557, 0.0033881, 0.0035069, 0.0035823, 0.003661], "tickCount": 10, "labels": false, "tickSize": -3, "title": null}}, "y": {"field": "y", "type": "quantitative", "scale": {"domain": [-0.008, 0.00097], "nice": false, "zero": false}, "axis": {"values": [-0.006, -0.004, -0.002, 0], "tickCount": 10, "labels": false, "tickSize": -3, "title": null}}}},
  {"transform": [{"filter": "datum.k == 'o'"}], "mark": "point", "encoding": {"x": {"field": "x", "type": "quantitative"}, "y": {"field": "y", "type": "quantitative"}}},
  {"transform": [{"filter": "datum.k == 'a'"}], "encoding": {"x": {"datum": 0.0034837, "type": "quantitative"}, "y": {"datum": -0.008, "type": "quantitative"}}, "layer": [
   {"mark": {"type": "text", "text": "E", "fontStyle": "italic", "fontSize": 12, "align": "left", "baseline": "alphabetic", "dy": -10, "color": "#111"}},
   {"mark": {"type": "text", "text": "a", "fontStyle": "italic", "fontSize": 8.5, "align": "left", "baseline": "alphabetic", "dx": 7, "dy": -7, "color": "#111"}},
   {"mark": {"type": "text", "fontSize": 8.5, "align": "left", "baseline": "alphabetic", "dx": 8.5, "dy": -16, "color": "#111"}, "encoding": {"text": {"field": "p", "type": "nominal"}}},
   {"mark": {"type": "text", "fontSize": 12, "align": "left", "baseline": "alphabetic", "dx": 17, "dy": -10, "color": "#111"}, "encoding": {"text": {"field": "t", "type": "nominal"}}}]}]},
 {"width": 224, "height": 110, "data": {"name": "d"}, "transform": [{"filter": "datum.s == '129R1' && datum.p == 'Lp' && datum.c == 'DMSO'"}], "layer": [
  {"transform": [{"filter": "datum.k == 'f'"}], "mark": {"type": "line", "clip": true}, "encoding": {"x": {"field": "x", "type": "quantitative", "scale": {"domain": [0.0032023, 0.0037026], "nice": false, "zero": false}, "axis": {"values": [0.0032557, 0.0033881, 0.0035069, 0.0035823, 0.003661], "tickCount": 10, "labels": false, "tickSize": -3, "title": null}}, "y": {"field": "y", "type": "quantitative", "scale": {"domain": [-0.00107, 0.00703], "nice": false, "zero": false}, "axis": {"values": [0, 0.002, 0.004, 0.006], "tickCount": 10, "labelExpr": "datum.value == 0 ? '0.' : format(datum.value, '.3f')", "labelOverlap": false, "labelFontSize": 11, "tickSize": -3, "labelPadding": 9, "title": "−R ln(Lₚ)", "titleFontSize": 14, "titleX": -47, "titleAngle": 270, "titleBaseline": "alphabetic", "titleAlign": "center"}}}},
  {"transform": [{"filter": "datum.k == 'o'"}], "mark": "point", "encoding": {"x": {"field": "x", "type": "quantitative"}, "y": {"field": "y", "type": "quantitative"}}},
  {"transform": [{"filter": "datum.k == 'a'"}], "encoding": {"x": {"datum": 0.0034837, "type": "quantitative"}, "y": {"datum": -0.00107, "type": "quantitative"}}, "layer": [
   {"mark": {"type": "text", "text": "E", "fontStyle": "italic", "fontSize": 12, "align": "left", "baseline": "alphabetic", "dy": -10, "color": "#111"}},
   {"mark": {"type": "text", "text": "a", "fontStyle": "italic", "fontSize": 8.5, "align": "left", "baseline": "alphabetic", "dx": 7, "dy": -7, "color": "#111"}},
   {"mark": {"type": "text", "fontSize": 8.5, "align": "left", "baseline": "alphabetic", "dx": 8.5, "dy": -16, "color": "#111"}, "encoding": {"text": {"field": "p", "type": "nominal"}}},
   {"mark": {"type": "text", "fontSize": 12, "align": "left", "baseline": "alphabetic", "dx": 17, "dy": -10, "color": "#111"}, "encoding": {"text": {"field": "t", "type": "nominal"}}}]}]},
 {"width": 224, "height": 110, "data": {"name": "d"}, "transform": [{"filter": "datum.s == '129R1' && datum.p == 'Lp' && datum.c == 'EG'"}], "layer": [
  {"transform": [{"filter": "datum.k == 'f'"}], "mark": {"type": "line", "clip": true}, "encoding": {"x": {"field": "x", "type": "quantitative", "scale": {"domain": [0.0032023, 0.0037026], "nice": false, "zero": false}, "axis": {"values": [0.0032557, 0.0033881, 0.0035069, 0.0035823, 0.003661], "tickCount": 10, "labels": false, "tickSize": -3, "title": null}}, "y": {"field": "y", "type": "quantitative", "scale": {"domain": [-0.00107, 0.00703], "nice": false, "zero": false}, "axis": {"values": [0, 0.002, 0.004, 0.006], "tickCount": 10, "labels": false, "tickSize": -3, "title": null}}}},
  {"transform": [{"filter": "datum.k == 'o'"}], "mark": "point", "encoding": {"x": {"field": "x", "type": "quantitative"}, "y": {"field": "y", "type": "quantitative"}}},
  {"transform": [{"filter": "datum.k == 'a'"}], "encoding": {"x": {"datum": 0.0034837, "type": "quantitative"}, "y": {"datum": -0.00107, "type": "quantitative"}}, "layer": [
   {"mark": {"type": "text", "text": "E", "fontStyle": "italic", "fontSize": 12, "align": "left", "baseline": "alphabetic", "dy": -10, "color": "#111"}},
   {"mark": {"type": "text", "text": "a", "fontStyle": "italic", "fontSize": 8.5, "align": "left", "baseline": "alphabetic", "dx": 7, "dy": -7, "color": "#111"}},
   {"mark": {"type": "text", "fontSize": 8.5, "align": "left", "baseline": "alphabetic", "dx": 8.5, "dy": -16, "color": "#111"}, "encoding": {"text": {"field": "p", "type": "nominal"}}},
   {"mark": {"type": "text", "fontSize": 12, "align": "left", "baseline": "alphabetic", "dx": 17, "dy": -10, "color": "#111"}, "encoding": {"text": {"field": "t", "type": "nominal"}}}]}]},
 {"width": 224, "height": 110, "data": {"name": "d"}, "transform": [{"filter": "datum.s == '129R1' && datum.p == 'Lp' && datum.c == 'PG'"}], "layer": [
  {"transform": [{"filter": "datum.k == 'f'"}], "mark": {"type": "line", "clip": true}, "encoding": {"x": {"field": "x", "type": "quantitative", "scale": {"domain": [0.0032023, 0.0037026], "nice": false, "zero": false}, "axis": {"values": [0.0032557, 0.0033881, 0.0035069, 0.0035823, 0.003661], "tickCount": 10, "labels": false, "tickSize": -3, "title": null}}, "y": {"field": "y", "type": "quantitative", "scale": {"domain": [-0.00107, 0.00703], "nice": false, "zero": false}, "axis": {"values": [0, 0.002, 0.004, 0.006], "tickCount": 10, "labels": false, "tickSize": -3, "title": null}}}},
  {"transform": [{"filter": "datum.k == 'o'"}], "mark": "point", "encoding": {"x": {"field": "x", "type": "quantitative"}, "y": {"field": "y", "type": "quantitative"}}},
  {"transform": [{"filter": "datum.k == 'a'"}], "encoding": {"x": {"datum": 0.0034837, "type": "quantitative"}, "y": {"datum": -0.00107, "type": "quantitative"}}, "layer": [
   {"mark": {"type": "text", "text": "E", "fontStyle": "italic", "fontSize": 12, "align": "left", "baseline": "alphabetic", "dy": -10, "color": "#111"}},
   {"mark": {"type": "text", "text": "a", "fontStyle": "italic", "fontSize": 8.5, "align": "left", "baseline": "alphabetic", "dx": 7, "dy": -7, "color": "#111"}},
   {"mark": {"type": "text", "fontSize": 8.5, "align": "left", "baseline": "alphabetic", "dx": 8.5, "dy": -16, "color": "#111"}, "encoding": {"text": {"field": "p", "type": "nominal"}}},
   {"mark": {"type": "text", "fontSize": 12, "align": "left", "baseline": "alphabetic", "dx": 17, "dy": -10, "color": "#111"}, "encoding": {"text": {"field": "t", "type": "nominal"}}}]}]},
 {"width": 224, "height": 110, "data": {"name": "d"}, "transform": [{"filter": "datum.s == '129R1' && datum.p == 'Ps' && datum.c == 'DMSO'"}], "layer": [
  {"transform": [{"filter": "datum.k == 'f'"}], "mark": {"type": "line", "clip": true}, "encoding": {"x": {"field": "x", "type": "quantitative", "scale": {"domain": [0.0032023, 0.0037026], "nice": false, "zero": false}, "axis": {"values": [0.0032557, 0.0033881, 0.0035069, 0.0035823, 0.003661], "tickCount": 10, "labelExpr": "['1', '———', format(1/datum.value, '.2f')]", "labelFontSize": 9, "labelLineHeight": 6, "labelPadding": 6, "labelOverlap": false, "labelFlush": false, "labelBound": false, "tickSize": -3, "title": null}}, "y": {"field": "y", "type": "quantitative", "scale": {"domain": [-0.00808, 0.00202], "nice": false, "zero": false}, "axis": {"values": [-0.007, -0.005, -0.003, -0.001, 0.001], "tickCount": 10, "labelExpr": "datum.value == 0 ? '0.' : format(datum.value, '.3f')", "labelOverlap": false, "labelFontSize": 11, "tickSize": -3, "labelPadding": 9, "title": "−R ln(Pₛ)", "titleFontSize": 14, "titleX": -47, "titleAngle": 270, "titleBaseline": "alphabetic", "titleAlign": "center"}}}},
  {"transform": [{"filter": "datum.k == 'o'"}], "mark": "point", "encoding": {"x": {"field": "x", "type": "quantitative"}, "y": {"field": "y", "type": "quantitative"}}},
  {"transform": [{"filter": "datum.k == 'a'"}], "encoding": {"x": {"datum": 0.0034837, "type": "quantitative"}, "y": {"datum": -0.00808, "type": "quantitative"}}, "layer": [
   {"mark": {"type": "text", "text": "E", "fontStyle": "italic", "fontSize": 12, "align": "left", "baseline": "alphabetic", "dy": -10, "color": "#111"}},
   {"mark": {"type": "text", "text": "a", "fontStyle": "italic", "fontSize": 8.5, "align": "left", "baseline": "alphabetic", "dx": 7, "dy": -7, "color": "#111"}},
   {"mark": {"type": "text", "fontSize": 8.5, "align": "left", "baseline": "alphabetic", "dx": 8.5, "dy": -16, "color": "#111"}, "encoding": {"text": {"field": "p", "type": "nominal"}}},
   {"mark": {"type": "text", "fontSize": 12, "align": "left", "baseline": "alphabetic", "dx": 17, "dy": -10, "color": "#111"}, "encoding": {"text": {"field": "t", "type": "nominal"}}}]}]},
 {"width": 224, "height": 110, "data": {"name": "d"}, "transform": [{"filter": "datum.s == '129R1' && datum.p == 'Ps' && datum.c == 'EG'"}], "layer": [
  {"transform": [{"filter": "datum.k == 'f'"}], "mark": {"type": "line", "clip": true}, "encoding": {"x": {"field": "x", "type": "quantitative", "scale": {"domain": [0.0032023, 0.0037026], "nice": false, "zero": false}, "axis": {"values": [0.0032557, 0.0033881, 0.0035069, 0.0035823, 0.003661], "tickCount": 10, "labelExpr": "['1', '———', format(1/datum.value, '.2f')]", "labelFontSize": 9, "labelLineHeight": 6, "labelPadding": 6, "labelOverlap": false, "labelFlush": false, "labelBound": false, "tickSize": -3, "title": "1/K", "titleFontSize": 12, "titlePadding": 8}}, "y": {"field": "y", "type": "quantitative", "scale": {"domain": [-0.00808, 0.00202], "nice": false, "zero": false}, "axis": {"values": [-0.007, -0.005, -0.003, -0.001, 0.001], "tickCount": 10, "labels": false, "tickSize": -3, "title": null}}}},
  {"transform": [{"filter": "datum.k == 'o'"}], "mark": "point", "encoding": {"x": {"field": "x", "type": "quantitative"}, "y": {"field": "y", "type": "quantitative"}}},
  {"transform": [{"filter": "datum.k == 'a'"}], "encoding": {"x": {"datum": 0.0034837, "type": "quantitative"}, "y": {"datum": -0.00808, "type": "quantitative"}}, "layer": [
   {"mark": {"type": "text", "text": "E", "fontStyle": "italic", "fontSize": 12, "align": "left", "baseline": "alphabetic", "dy": -10, "color": "#111"}},
   {"mark": {"type": "text", "text": "a", "fontStyle": "italic", "fontSize": 8.5, "align": "left", "baseline": "alphabetic", "dx": 7, "dy": -7, "color": "#111"}},
   {"mark": {"type": "text", "fontSize": 8.5, "align": "left", "baseline": "alphabetic", "dx": 8.5, "dy": -16, "color": "#111"}, "encoding": {"text": {"field": "p", "type": "nominal"}}},
   {"mark": {"type": "text", "fontSize": 12, "align": "left", "baseline": "alphabetic", "dx": 17, "dy": -10, "color": "#111"}, "encoding": {"text": {"field": "t", "type": "nominal"}}}]}]},
 {"width": 224, "height": 110, "data": {"name": "d"}, "transform": [{"filter": "datum.s == '129R1' && datum.p == 'Ps' && datum.c == 'PG'"}], "layer": [
  {"transform": [{"filter": "datum.k == 'f'"}], "mark": {"type": "line", "clip": true}, "encoding": {"x": {"field": "x", "type": "quantitative", "scale": {"domain": [0.0032023, 0.0037026], "nice": false, "zero": false}, "axis": {"values": [0.0032557, 0.0033881, 0.0035069, 0.0035823, 0.003661], "tickCount": 10, "labelExpr": "['1', '———', format(1/datum.value, '.2f')]", "labelFontSize": 9, "labelLineHeight": 6, "labelPadding": 6, "labelOverlap": false, "labelFlush": false, "labelBound": false, "tickSize": -3, "title": null}}, "y": {"field": "y", "type": "quantitative", "scale": {"domain": [-0.00808, 0.00202], "nice": false, "zero": false}, "axis": {"values": [-0.007, -0.005, -0.003, -0.001, 0.001], "tickCount": 10, "labels": false, "tickSize": -3, "title": null}}}},
  {"transform": [{"filter": "datum.k == 'o'"}], "mark": "point", "encoding": {"x": {"field": "x", "type": "quantitative"}, "y": {"field": "y", "type": "quantitative"}}},
  {"transform": [{"filter": "datum.k == 'a'"}], "encoding": {"x": {"datum": 0.0034837, "type": "quantitative"}, "y": {"datum": -0.00808, "type": "quantitative"}}, "layer": [
   {"mark": {"type": "text", "text": "E", "fontStyle": "italic", "fontSize": 12, "align": "left", "baseline": "alphabetic", "dy": -10, "color": "#111"}},
   {"mark": {"type": "text", "text": "a", "fontStyle": "italic", "fontSize": 8.5, "align": "left", "baseline": "alphabetic", "dx": 7, "dy": -7, "color": "#111"}},
   {"mark": {"type": "text", "fontSize": 8.5, "align": "left", "baseline": "alphabetic", "dx": 8.5, "dy": -16, "color": "#111"}, "encoding": {"text": {"field": "p", "type": "nominal"}}},
   {"mark": {"type": "text", "fontSize": 12, "align": "left", "baseline": "alphabetic", "dx": 17, "dy": -10, "color": "#111"}, "encoding": {"text": {"field": "t", "type": "nominal"}}}]}]}
]}
]
}
